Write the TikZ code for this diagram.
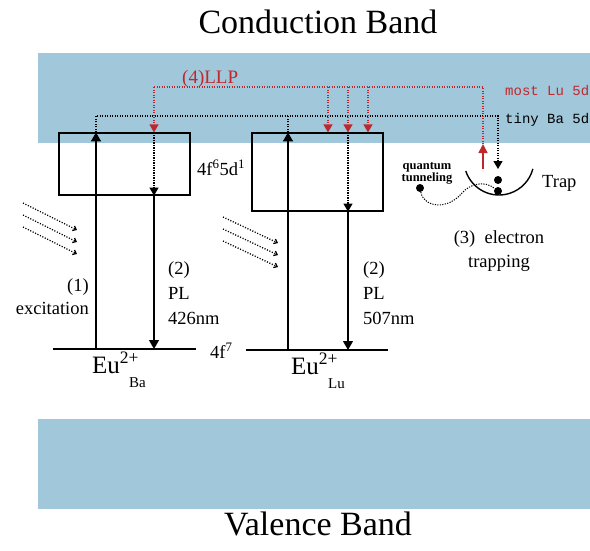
\documentclass[tikz,border=0pt]{standalone}
\usepackage{fontspec}
\setmainfont{Liberation Serif}
\setmonofont{Liberation Mono}
\usetikzlibrary{arrows.meta,positioning,calc}
\definecolor{bandblue}{RGB}{160,199,218}
\definecolor{llpred}{RGB}{192,39,45}
\newcommand{\fsz}[1]{\fontsize{#1}{#1}\selectfont}

\begin{document}
\begin{tikzpicture}[
    x=1pt, y=-1pt,
    every node/.style={inner sep=0pt, font=\fsz{18.5}},
    lvl/.style={line width=1.3pt},
    levelbox/.style={draw, line width=1.2pt, minimum width=131pt},
    solidarr/.style={line width=1.3pt, -{Triangle[length=9pt,width=10pt]}},
    dotline/.style={line width=1.2pt, dash pattern=on 1.2pt off 1.3pt},
    dotarr/.style={dotline, -{Triangle[length=8pt,width=9pt]}},
    redline/.style={dotline, draw=llpred},
    redarr/.style={redline, -{Triangle[length=8pt,width=9pt,fill=llpred]}},
    redsolid/.style={line width=1.5pt, draw=llpred, -{Triangle[length=9pt,width=9pt,fill=llpred]}},
    photon/.style={line width=1.3pt, dash pattern=on 1.1pt off 1.6pt, -{Straight Barb[length=3pt,width=5pt]}},
    electron/.style={circle, fill, minimum size=8pt}
  ]
  \useasboundingbox (0,0) rectangle (590,550);
  % bands
  \fill[bandblue] (38,53) rectangle (590,143);
  \fill[bandblue] (38,419) rectangle (590,509);
  \node[anchor=base, font=\fsz{34}] (cb) at (318,33) {Conduction Band};
  \node[anchor=base, font=\fsz{34}] (vb) at (318,535) {Valence Band};

  % 5d levels and 4f ground states
  \node[levelbox, minimum height=62pt] (boxBa) at (124.5,164) {};
  \node[levelbox, minimum height=78pt] (boxLu) at (317.5,172) {};
  \coordinate (exBa) at (96,349);  \coordinate (emBa) at (154,349);
  \coordinate (exLu) at (288,350); \coordinate (emLu) at (348,350);
  \draw[lvl] (53,349) -- (196,349);
  \draw[lvl] (246,350) -- (388,350);

  % excitation and PL
  \draw[solidarr] (exBa) -- (exBa |- boxBa.north);
  \draw[solidarr] (exLu) -- (exLu |- boxLu.north);
  \draw[solidarr] (emBa |- boxBa.south) -- (emBa);
  \draw[solidarr] (emLu |- boxLu.south) -- (emLu);
  \draw[dotarr] (emBa |- boxBa.north) -- (emBa |- boxBa.south);
  \draw[dotarr] (emLu |- boxLu.north) -- (emLu |- boxLu.south);

  % trap
  \coordinate (trapC) at (499,160);
  \draw[line width=1.4pt] (trapC) ++(161.6:35) arc[start angle=161.6, end angle=14.8, radius=35];
  \node[electron] (e1) at (498,180) {};
  \node[electron] (e2) at (498,191) {};
  \node[electron] (qt) at (420,188) {};
  \draw[dotline, line width=1pt] (qt) .. controls (424,208) and (448,210) .. (462,193)
    .. controls (470,184) and (484,180) .. (e2);

  % tiny Ba 5d
  \coordinate (tinyR) at (498,116);
  \coordinate (trapTop) at (498,169);
  \draw[dotarr] (exBa |- boxBa.north) |- (tinyR) -- (trapTop);
  \draw[dotline] (exLu |- boxLu.north) -- (exLu |- tinyR);

  % (4) LLP, most Lu 5d
  \coordinate (llpL) at (154,87);
  \coordinate (llpR) at (483,87);
  \coordinate (redTip) at (483,144);
  \coordinate (trapOut) at (483,169);
  \draw[redline] (llpL) -- (llpR) -- (redTip);
  \draw[redarr] (llpL) -- (llpL |- boxBa.north);
  \foreach \x in {328,348,368} {
    \coordinate (r\x) at (\x,87);
    \draw[redarr] (r\x) -- (r\x |- boxLu.north);
  }
  \draw[redsolid] (trapOut) -- (redTip);

  % photons
  \foreach \d in {0,12,24} {
    \draw[photon] (23,203+\d) -- (77,230+\d);
    \draw[photon] (223,217+\d) -- (278,243+\d);
  }

  % Labels
  \node[anchor=base west, text=llpred, font=\fsz{19}] (llp) at (182,83) {(4)LLP};
  \node[anchor=base west, text=llpred, font=\ttfamily\fsz{14}] (mostLu) at (505,95) {most Lu 5d};
  \node[anchor=base west, font=\ttfamily\fsz{14}] (tinyBa) at (505,123) {tiny Ba 5d};
  \node[anchor=base west] (fd) at (197,175) {4f\textsuperscript{6}5d\textsuperscript{1}};
  \node[anchor=base west] (ff) at (210,358) {4f\textsuperscript{7}};
  \node[anchor=base east] (ex1) at (89,291) {(1)};
  \node[anchor=base east] (ex2) at (89,314) {excitation};
  \node[anchor=base west] (plBa1) at (168,274) {(2)};
  \node[anchor=base west] (plBa2) at (168,299) {PL};
  \node[anchor=base west] (plBa3) at (168,324) {426nm};
  \node[anchor=base west] (plLu1) at (363,274) {(2)};
  \node[anchor=base west] (plLu2) at (363,299) {PL};
  \node[anchor=base west] (plLu3) at (363,324) {507nm};
  \node[anchor=base west] (euBa) at (92,373)
    {\fsz{25}Eu\textsuperscript{2+}\hspace{-10pt}\raisebox{-14pt}{\fsz{15}Ba}};
  \node[anchor=base west] (euLu) at (291,374)
    {\fsz{25}Eu\textsuperscript{2+}\hspace{-10pt}\raisebox{-14pt}{\fsz{15}Lu}};
  \node[anchor=base] (tr1) at (499,243) {(3)\ \ electron};
  \node[anchor=base] (tr2) at (499,267) {trapping};
  \node[anchor=base west] (trap) at (542,187) {Trap};
  \node[anchor=base, font=\bfseries\fsz{12.5}] (qt1) at (427,169) {quantum};
  \node[anchor=base, font=\bfseries\fsz{12.5}] (qt2) at (427,181) {tunneling};
\end{tikzpicture}
\end{document}
